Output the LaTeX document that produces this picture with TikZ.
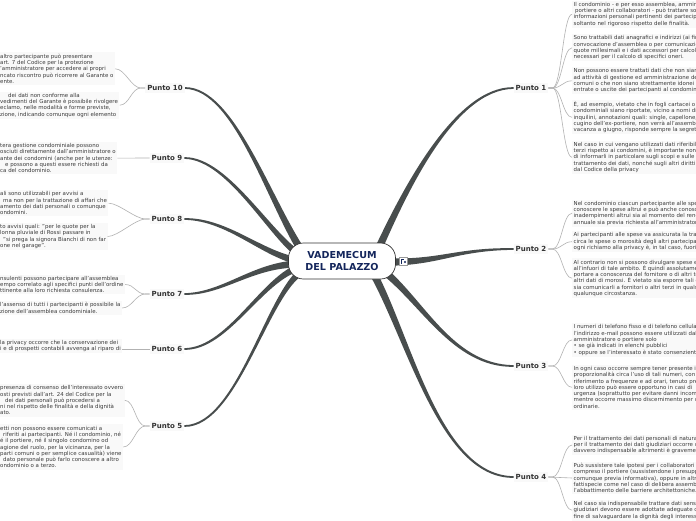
\documentclass[tikz,border=0pt]{standalone}
\usepackage{fontspec}
\setmainfont{DejaVu Sans}
\usetikzlibrary{calc}
\pgfdeclarelayer{bg}
\pgfdeclarelayer{background}
\pgfsetlayers{bg,background,main}
\definecolor{ramo}{RGB}{72,77,77}
\definecolor{rametto}{RGB}{178,178,178}
\definecolor{etichetta}{RGB}{51,51,51}
\definecolor{testo}{RGB}{58,58,58}
\definecolor{blu}{RGB}{20,38,92}
\definecolor{fondo}{RGB}{249,249,249}

% rama gruesa que se afina: inicio, control 1, control 2, fin
\newcommand{\rama}[4]{%
  \fill[ramo]
    ($(#1)!3.8pt!90:(#2)$) .. controls ($(#2)!2.7pt!-90:(#1)$) and ($(#3)!1.5pt!90:(#4)$) .. ($(#4)!0.85pt!-90:(#3)$)
    -- ($(#4)!0.85pt!90:(#3)$) .. controls ($(#3)!1.5pt!-90:(#4)$) and ($(#2)!2.7pt!90:(#1)$) .. ($(#1)!3.8pt!-90:(#2)$) -- cycle;}

\begin{document}
\begin{tikzpicture}[x=1pt, y=-1pt,
  hub/.style={draw=black!80, line width=0.7pt, fill=white, rounded corners=15pt, minimum width=107pt, minimum height=36pt, align=center, text=blu, font=\fontsize{9.6}{12}\selectfont\bfseries},
  punto/.style={fill=fondo, inner sep=2pt, text=etichetta, font=\fontsize{7}{8}\selectfont\bfseries},
  nota/.style={fill=fondo, inner sep=1.5pt, align=left, text=testo, font=\fontsize{5.45}{6.3}\selectfont, anchor=west},
  hilo/.style={draw=rametto, line width=0.6pt}]

  \useasboundingbox (0,0) rectangle (696,520);
  \begin{pgfonlayer}{bg}
    \fill[white] (0,0) rectangle (696,520);
  \end{pgfonlayer}

  % Nodo central
  \node[hub] (ctr) at (342,261) {VADEMECUM\\DEL PALAZZO};
  \node[draw=black!40, fill=white, minimum size=8pt, inner sep=0pt] (ico) at (403,261) {};
  \draw[blu, line width=0.8pt] ([shift={(-2,2.5)}]ico.center) -- ++(0,-4) -- ++(2.5,0);
  \fill[blu] ([shift={(2,1)}]ico.center) circle (1.1);

  % Puntos a la derecha
  \node[punto] (p1) at (531,88) {Punto 1};
  \node[punto] (p2) at (531,249) {Punto 2};
  \node[punto] (p3) at (531,366) {Punto 3};
  \node[punto] (p4) at (531,477) {Punto 4};

  % Puntos a la izquierda
  \node[punto] (p10) at (165,88) {Punto 10};
  \node[punto] (p9) at (167,158) {Punto 9};
  \node[punto] (p8) at (167,219) {Punto 8};
  \node[punto] (p7) at (167,294) {Punto 7};
  \node[punto] (p6) at (167,349) {Punto 6};
  \node[punto] (p5) at (167,426) {Punto 5};

  % Notas del Punto 1
  \node[nota] (t1a) at (572,14.3) {Il condominio - e per esso assemblea, amministratore,\\\hspace*{1.5pt}portiere o altri collaboratori - può trattare solo le\\informazioni personali pertinenti dei partecipanti,\\soltanto nel rigoroso rispetto delle finalità.};
  \node[nota] (t1b) at (572,47.8) {Sono trattabili dati anagrafici e indirizzi (ai fini della\\convocazione d'assemblea o per comunicazioni),\\quote millesimali e i dati accessori per calcolare gli importi\\necessari per il calcolo di specifici oneri.};
  \node[nota] (t1c) at (572,80.8) {Non possono essere trattati dati che non siano inerenti\\ad attività di gestione ed amministrazione delle parti\\comuni o che non siano strettamente idonei a\\entrate o uscite dei partecipanti al condominio.};
  \node[nota] (t1d) at (572,117.3) {È, ad esempio, vietato che in fogli cartacei o\\condominiali siano riportate, vicino a nomi di condòmini e\\inquilini, annotazioni quali: single, capellone,\\cugino dell'ex-portiere, non verrà all'assemblea,\\vacanza a giugno, risponde sempre la segreteria.};
  \node[nota] (t1e) at (572,157.3) {Nel caso in cui vengano utilizzati dati riferibili a\\terzi rispetto ai condomini, è importante non dimenticare\\di informarli in particolare sugli scopi e sulle modalità del\\trattamento dei dati, nonché sugli altri diritti previsti\\dal Codice della privacy};

  % Notas del Punto 2
  \node[nota] (t2a) at (572,213.2) {Nel condominio ciascun partecipante alle spese può\\conoscere le spese altrui e può anche conoscere gli\\inadempimenti altrui sia al momento del rendiconto\\annuale sia previa richiesta all'amministratore.};
  \node[nota] (t2b) at (572,241.7) {Ai partecipanti alle spese va assicurata la trasparenza\\circa le spese o morosità degli altri partecipanti:\\ogni richiamo alla privacy è, in tal caso, fuori luogo.};
  \node[nota] (t2c) at (572,278.2) {Al contrario non si possono divulgare spese e morosità\\all'infuori di tale ambito. È quindi assolutamente vietato\\portare a conoscenza del fornitore o di altri terzi\\altri dati di morosi. È vietato sia esporre tali dati\\sia comunicarli a fornitori o altri terzi in qualsiasi modo\\qualunque circostanza.};

  % Notas del Punto 3
  \node[nota] (t3a) at (572,339.9) {I numeri di telefono fisso e di telefono cellulare e\\l'indirizzo e-mail possono essere utilizzati dall'\\amministratore o portiere solo\\• se già indicati in elenchi pubblici\\• oppure se l'interessato è stato consenziente};
  \node[nota] (t3b) at (572,387.3) {In ogni caso occorre sempre tener presente il principio di\\proporzionalità circa l'uso di tali numeri, con particolare\\riferimento a frequenze e ad orari, tenuto presente che il\\loro utilizzo può essere opportuno in casi di\\urgenza (soprattutto per evitare danni incombenti),\\mentre occorre massimo discernimento per comunicazioni\\ordinarie.};

  % Notas del Punto 4
  \node[nota] (t4a) at (572,445) {Per il trattamento dei dati personali di natura sensibile e\\per il trattamento dei dati giudiziari occorre che sia\\davvero indispensabile altrimenti è gravemente illecito.};
  \node[nota] (t4b) at (572,478) {Può sussistere tale ipotesi per i collaboratori\\compreso il portiere (sussistendone i presupposti e\\comunque previa informativa), oppure in altre\\fattispecie come nel caso di delibera assembleare per\\l'abbattimento delle barriere architettoniche.};
  \node[nota] (t4c) at (572,510.2) {Nel caso sia indispensabile trattare dati sensibili o\\giudiziari devono essere adottate adeguate cautele al\\fine di salvaguardare la dignità degli interessati.};

  % Notas de la izquierda (cortadas por el borde)
  \node[nota] (t10a) at (-1.5,68.8) {altro partecipante può presentare\\art. 7 del Codice per la protezione\\'amministratore per accedere ai propri\\ncato riscontro può ricorrere al Garante o\\ente.};
  \node[nota] (t10b) at (-1.5,105.2) {\hspace*{8pt}dei dati non conforme alla\\vedimenti del Garante è possibile rivolgere\\eclamo, nelle modalità e forme previste,\\zione, indicando comunque ogni elemento};
  \node[nota] (t9) at (-1.5,158.1) {tera gestione condominiale possono\\osciuti direttamente dall'amministratore o\\ante dei condomini (anche per le utenze:\\\hspace*{5pt}e possono a questi essere richiesti da\\ca del condominio.};
  \node[nota] (t8a) at (-1.5,203.2) {ali sono utilizzabili per avvisi a\\\hspace*{3pt}ma non per la trattazione di affari che\\amento dei dati personali o comunque\\ondomini.};
  \node[nota] (t8b) at (-1.5,236.5) {to avvisi quali: "per le quote per la\\lonna pluviale di Rossi passare in\\\hspace*{3pt}"si prega la signora Bianchi di non far\\one nel garage".};
  \node[nota] (t7a) at (-1.5,284.5) {nsulenti possono partecipare all'assemblea\\empo correlato agli specifici punti dell'ordine\\ttinente alla loro richiesta consulenza.};
  \node[nota] (t7b) at (-1.5,308) {l'assenso di tutti i partecipanti è possibile la\\zione dell'assemblea condominiale.};
  \node[nota] (t6) at (-1.5,346.2) {la privacy occorre che la conservazione dei\\i e di prospetti contabili avvenga al riparo di};
  \node[nota] (t5a) at (-1.5,400.3) {presenza di consenso dell'interessato ovvero\\osti previsti dall'art. 24 del Codice per la\\\hspace*{5pt}dei dati personali può procedersi a\\ni nel rispetto delle finalità e della dignità\\ato.};
  \node[nota] (t5b) at (-1.5,447) {etti non possono essere comunicati a\\\hspace*{3pt}riferiti ai partecipanti. Né il condominio, né\\é il portiere, né il singolo condomino od\\agione del ruolo, per la vicinanza, per la\\parti comuni o per semplice casualità) viene\\\hspace*{3pt}dato personale può farlo conoscere a altro\\ondominio o a terzo.};

  % Ramas principales
  \begin{pgfonlayer}{background}
    \coordinate (s1) at ($(ctr)+(35,-9)$);
    \coordinate (s2) at ($(ctr)+(43,1)$);
    \coordinate (s3) at ($(ctr)+(38,7)$);
    \coordinate (s4) at ($(ctr)+(30,10)$);
    \coordinate (s10) at ($(ctr)+(-37,-5)$);
    \coordinate (s9) at ($(ctr)+(-37,-3)$);
    \coordinate (s8) at ($(ctr)+(-37,1)$);
    \coordinate (s7) at ($(ctr)+(-37,3)$);
    \coordinate (s6) at ($(ctr)+(-37,5)$);
    \coordinate (s5) at ($(ctr)+(-34,7)$);
    \rama{s1}{405,190}{455,88}{p1.west}
    \rama{s2}{440,263}{455,249}{p2.west}
    \rama{s3}{422,300}{452,366}{p3.west}
    \rama{s4}{410,340}{440,477}{p4.west}
    \rama{s10}{270,205}{235,88}{p10.east}
    \rama{s9}{275,245}{230,158}{p9.east}
    \rama{s8}{265,258}{230,219}{p8.east}
    \rama{s7}{255,262}{225,294}{p7.east}
    \rama{s6}{265,272}{230,349}{p6.east}
    \rama{s5}{270,280}{240,426}{p5.east}
  \end{pgfonlayer}

  % Ramitas hacia las notas
  \draw[hilo] (p1.east) -- ++(4,0) .. controls +(9,0) and +(-9,0) .. (t1a.west);
  \draw[hilo] (p1.east) -- ++(4,0) .. controls +(9,0) and +(-9,0) .. (t1b.west);
  \draw[hilo] (p1.east) -- ++(4,0) .. controls +(9,0) and +(-9,0) .. (t1c.west);
  \draw[hilo] (p1.east) -- ++(4,0) .. controls +(9,0) and +(-9,0) .. (t1d.west);
  \draw[hilo] (p1.east) -- ++(4,0) .. controls +(9,0) and +(-9,0) .. (t1e.west);
  \draw[hilo] (p2.east) -- ++(4,0) .. controls +(9,0) and +(-9,0) .. (t2a.west);
  \draw[hilo] (p2.east) -- ++(4,0) .. controls +(9,0) and +(-9,0) .. (t2b.west);
  \draw[hilo] (p2.east) -- ++(4,0) .. controls +(9,0) and +(-9,0) .. (t2c.west);
  \draw[hilo] (p3.east) -- ++(4,0) .. controls +(9,0) and +(-9,0) .. (t3a.west);
  \draw[hilo] (p3.east) -- ++(4,0) .. controls +(9,0) and +(-9,0) .. (t3b.west);
  \draw[hilo] (p4.east) -- ++(4,0) .. controls +(9,0) and +(-9,0) .. (t4a.west);
  \draw[hilo] (p4.east) -- (t4b.west);
  \draw[hilo] (p4.east) -- ++(4,0) .. controls +(9,0) and +(-9,0) .. (t4c.west);
  \draw[hilo] (p10.west) -- ++(-4,0) .. controls +(-10,0) and +(10,0) .. (t10a.east);
  \draw[hilo] (p10.west) -- ++(-4,0) .. controls +(-10,0) and +(10,0) .. (t10b.east);
  \draw[hilo] (p9.west) -- (t9.east);
  \draw[hilo] (p8.west) -- ++(-4,0) .. controls +(-10,0) and +(10,0) .. (t8a.east);
  \draw[hilo] (p8.west) -- ++(-4,0) .. controls +(-10,0) and +(10,0) .. (t8b.east);
  \draw[hilo] (p7.west) -- ++(-4,0) .. controls +(-10,0) and +(10,0) .. (t7a.east);
  \draw[hilo] (p7.west) -- ++(-4,0) .. controls +(-10,0) and +(10,0) .. (t7b.east);
  \draw[hilo] (p6.west) -- (p6.west -| t6.east);
  \draw[hilo] (p5.west) -- ++(-4,0) .. controls +(-10,0) and +(10,0) .. (t5a.east);
  \draw[hilo] (p5.west) -- ++(-4,0) .. controls +(-10,0) and +(10,0) .. (t5b.east);

\end{tikzpicture}
\end{document}
